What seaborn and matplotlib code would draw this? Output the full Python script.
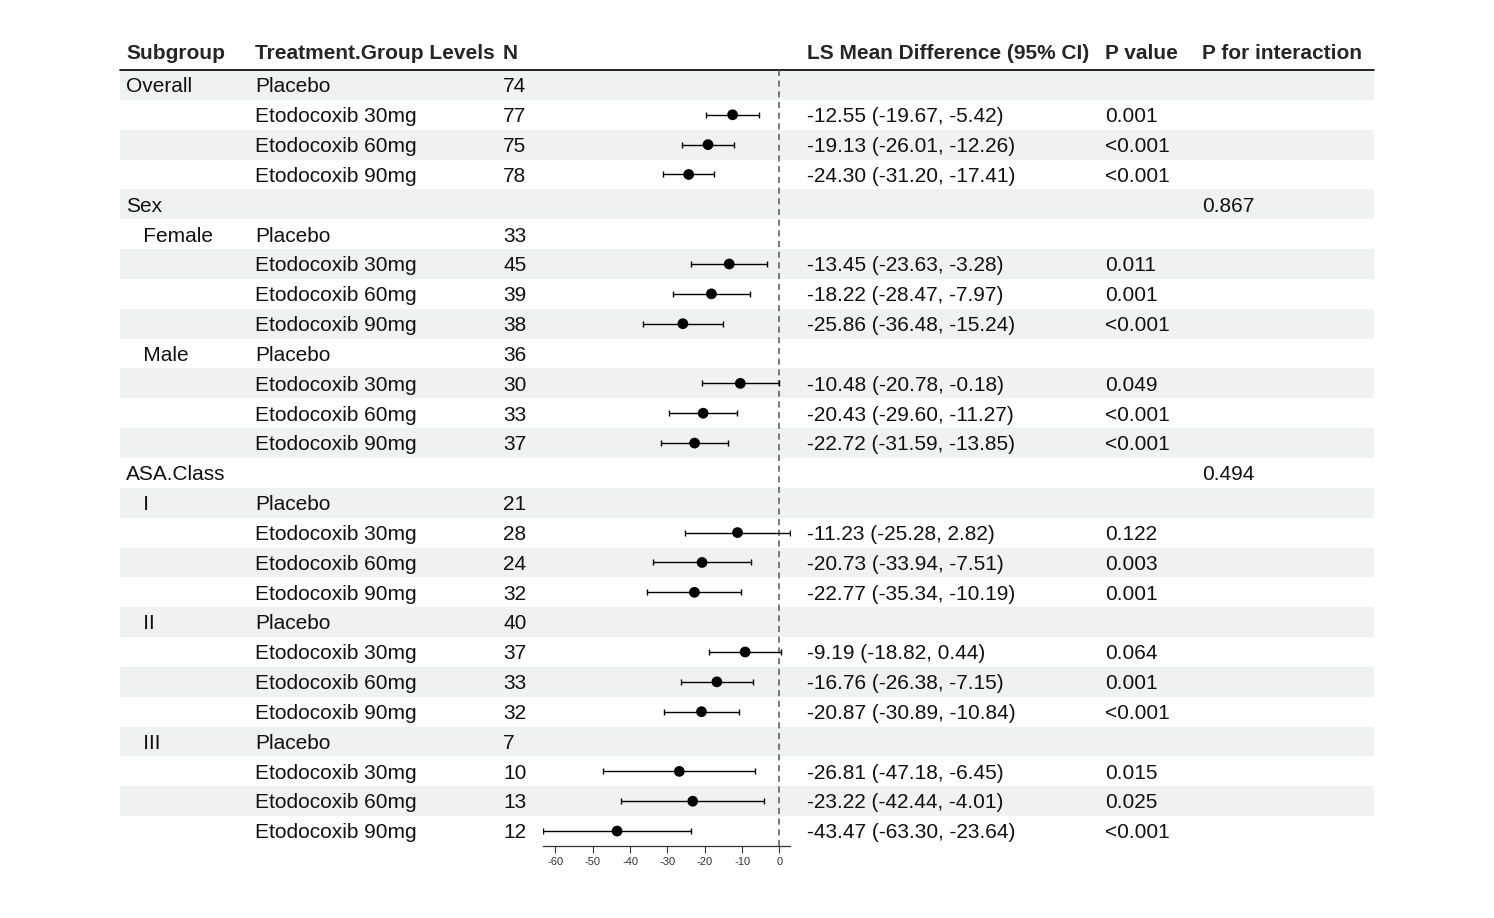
import numpy as np
import pandas as pd
import matplotlib
matplotlib.use('Agg')
import matplotlib.pyplot as plt
import seaborn as sns

sns.set_style("white")
plt.rcParams['font.family'] = ['Liberation Sans', 'DejaVu Sans']

# ── 数据 ──
subgroup = ["Overall", "", "", "", "Sex", "   Female", "", "", "", "   Male", "", "", "",
            "ASA.Class", "   I", "", "", "", "   II", "", "", "", "   III", "", "", ""]
arm = ["Placebo", "Etodocoxib 30mg", "Etodocoxib 60mg", "Etodocoxib 90mg"]
treatment = (arm + [""] + arm + arm + [""] + arm + arm + arm)
n_pat = ["74", "77", "75", "78", "", "33", "45", "39", "38", "36", "30", "33", "37",
         "", "21", "28", "24", "32", "40", "37", "33", "32", "7", "10", "13", "12"]
nan = np.nan
est = [nan, -12.55, -19.13, -24.30, nan,
       nan, -13.45, -18.22, -25.86, nan, -10.48, -20.43, -22.72, nan,
       nan, -11.23, -20.73, -22.77, nan, -9.19, -16.76, -20.87, nan, -26.81, -23.22, -43.47]
lo = [nan, -19.67, -26.01, -31.20, nan,
      nan, -23.63, -28.47, -36.48, nan, -20.78, -29.60, -31.59, nan,
      nan, -25.28, -33.94, -35.34, nan, -18.82, -26.38, -30.89, nan, -47.18, -42.44, -63.30]
hi = [nan, -5.42, -12.26, -17.41, nan,
      nan, -3.28, -7.97, -15.24, nan, -0.18, -11.27, -13.85, nan,
      nan, 2.82, -7.51, -10.19, nan, 0.44, -7.15, -10.84, nan, -6.45, -4.01, -23.64]
p_value = ["", "0.001", "<0.001", "<0.001", "",
           "", "0.011", "0.001", "<0.001", "", "0.049", "<0.001", "<0.001", "",
           "", "0.122", "0.003", "0.001", "", "0.064", "0.001", "<0.001", "", "0.015", "0.025", "<0.001"]
p_inter = [""] * 4 + ["0.867"] + [""] * 8 + ["0.494"] + [""] * 12
x_ticks = [-60, -50, -40, -30, -20, -10, 0]

df = pd.DataFrame({'row': range(len(subgroup)), 'est': est, 'lo': lo, 'hi': hi})

W, H = 1494, 918
ROW0, ROWH = 85, 29.84
FS = 15
SHADE = '#eff2f1'

fig = plt.figure(figsize=(W / 100, H / 100), dpi=100)
ax = fig.add_axes([0, 0, 1, 1])
ax.set_xlim(0, W)
ax.set_ylim(H, 0)
ax.axis('off')

# 斑马纹背景
for r in range(len(subgroup)):
    y = ROW0 + r * ROWH
    if r % 2 == 0:
        ax.add_patch(plt.Rectangle((120, y - ROWH / 2), 1254, ROWH,
                                   facecolor=SHADE, edgecolor='none', zorder=0))

# 表头
heads = [(126, "Subgroup"), (255, "Treatment.Group Levels"), (503, "N"),
         (807, "LS Mean Difference (95% CI)"), (1105, "P value"), (1202, "P for interaction")]
for x, t in heads:
    ax.text(x, 53.5, t, fontsize=FS, fontweight='bold', va='center', ha='left')
ax.plot([120, 1374], [69.5, 69.5], color='black', lw=1.2)

# 表格文字
for r in range(len(subgroup)):
    y = ROW0 + r * ROWH + 1.8
    ci_txt = "" if np.isnan(est[r]) else f"{est[r]:.2f} ({lo[r]:.2f}, {hi[r]:.2f})"
    for x, t in [(126, subgroup[r]), (255, treatment[r]), (503, n_pat[r]),
                 (807, ci_txt), (1105, p_value[r]), (1202, p_inter[r])]:
        if t:
            ax.text(x, y, t, fontsize=FS, va='center', ha='left', color='#111111')

# ── 森林图 ──
x0_px, x1_px = 543, 790
top_px, bot_px = 70, 846
fx = fig.add_axes([x0_px / W, 1 - bot_px / H, (x1_px - x0_px) / W, (bot_px - top_px) / H])
fx.patch.set_alpha(0)
fx.set_xlim(-63.3, 2.82)
fx.set_ylim(25.5, -0.5)

fx.axvline(0, color='#555555', lw=1.1, ls=(0, (4, 3)), zorder=1)
d = df.dropna()
fx.errorbar(d['est'], d['row'], xerr=[d['est'] - d['lo'], d['hi'] - d['est']],
            fmt='none', ecolor='black', elinewidth=1.0, capsize=2.2, capthick=1.0, zorder=2)
sns.scatterplot(data=d, x='est', y='row', color='black', s=60, edgecolor='none',
                zorder=3, ax=fx, legend=False)

fx.set_xticks(x_ticks)
fx.set_xticklabels([str(t) for t in x_ticks])
fx.set_yticks([])
fx.set_xlabel('')
fx.set_ylabel('')
for s in ['top', 'left', 'right']:
    fx.spines[s].set_visible(False)
fx.spines['bottom'].set_color('#333333')
fx.spines['bottom'].set_linewidth(0.9)
fx.tick_params(axis='x', length=5, width=0.8, colors='#333333', labelsize=8, pad=3,
               bottom=True)

fig.savefig('out.png', dpi=100)
plt.close()
